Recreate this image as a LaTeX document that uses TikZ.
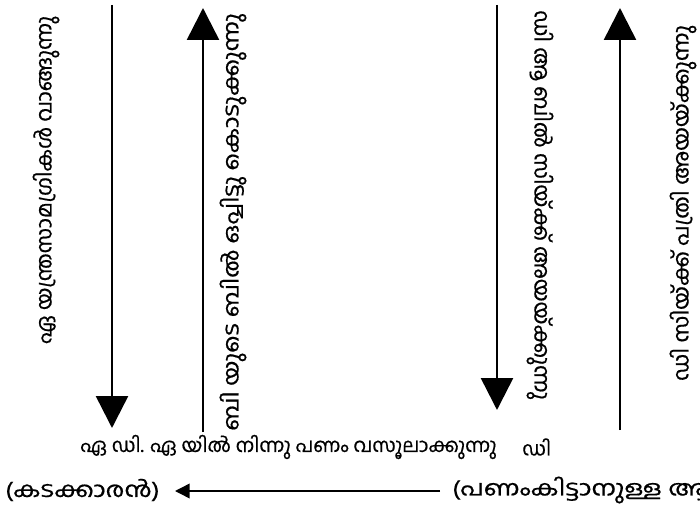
\documentclass[tikz,border=0pt]{standalone}
\usepackage{fontspec}
\newfontfamily\mlfont[Script=Malayalam,FakeBold=0.6]{Hind Kochi}
\usetikzlibrary{arrows.meta}
\tikzset{
  vline/.style={line width=1.9pt, -{Triangle[length=24pt,width=24pt]}},
  hline/.style={line width=1.1pt, -{Triangle[length=11pt,width=11pt]}},
  lbl/.style={font=\mlfont\fontsize{14.5}{16}\selectfont, inner sep=0pt},
  vlbl/.style={font=\mlfont\fontsize{16}{18}\selectfont, inner sep=0pt},
  blbl/.style={font=\mlfont\fontsize{16}{18}\selectfont, inner sep=0pt},
}
\begin{document}
\begin{tikzpicture}[x=0.75pt,y=-0.75pt]
\useasboundingbox (0,0) rectangle (700,510);
% vertical texts
\node[vlbl, rotate=90] (t1) at (46,180) {\scalebox{0.98}[1]{ഏ യന്ത്രസാമഗ്രികൾ വാങ്ങുന്നു}};
\node[vlbl, rotate=90] (t2) at (233,222) {\scalebox{1.1}[1]{ബി യുടെ ബിൽ ഒപ്പിട്ടു കൊടുക്കുന്നു}};
\node[vlbl, rotate=-90] (t3) at (540,205) {ഡി ആ ബിൽ സിയ്ക്ക് അയയ്ക്കുന്നു};
\node[vlbl, rotate=90] (t4) at (683,203) {\scalebox{1.04}[1]{ഡി സിയ്ക്ക് പത്രി അയയ്ക്കുന്നു}};
% arrow end points
\coordinate (a1s) at (112,5);   \coordinate (a1e) at (112,428);
\coordinate (a2s) at (203,432); \coordinate (a2e) at (203,8);
\coordinate (a3s) at (497,5);   \coordinate (a3e) at (497,410);
\coordinate (a4s) at (620,430); \coordinate (a4e) at (620,8);
\draw[vline] (a1s) -- (a1e);
\draw[vline] (a2s) -- (a2e);
\draw[vline] (a3s) -- (a3e);
\draw[vline] (a4s) -- (a4e);
% bottom texts
\node[lbl, anchor=west] (b1) at (80,447) {ഏ ഡി. ഏ യിൽ നിന്നു പണം വസൂലാക്കുന്നു};
\node[lbl, anchor=west] (b2) at (522,447) {ഡി};
\node[blbl, anchor=west] (k) at (5,490) {\scalebox{1.18}[1]{(കടക്കാരൻ)}};
\node[blbl, anchor=west] (p) at (452,490) {\scalebox{1.2}[1]{(പണംകിട്ടാനുള്ള ആൾ)}};
\coordinate (hs) at (440,491);
\coordinate (he) at (175,491);
\draw[hline] (hs) -- (he);
\end{tikzpicture}
\end{document}
